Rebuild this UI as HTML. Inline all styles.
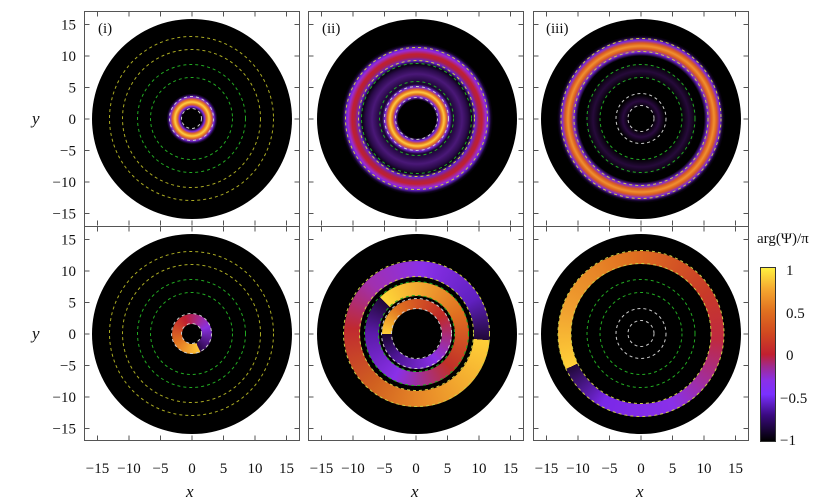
<!DOCTYPE html>
<html><head><meta charset="utf-8"><style>
body{margin:0;background:#fff;width:833px;height:504px;position:relative;overflow:hidden;font-family:"Liberation Serif",serif}
.d{position:absolute;border-radius:50%}
.t{position:absolute;font-size:15px;color:#111;white-space:nowrap}
svg{position:absolute;left:0;top:0}
</style></head><body>

<!-- TOP PANELS -->
<div class="d" style="left:91.5px;top:18.5px;width:200px;height:200px;background:radial-gradient(circle closest-side,#000 0,#000 10px,#7a28e0 12.5px,#e06a20 14.5px,#ffd040 17px,#e06a20 19.5px,#7a28e0 22px,#200840 24px,#000 25.5px,#000 100%)"></div>
<div class="d" style="left:316.5px;top:18.5px;width:200px;height:200px;background:radial-gradient(circle closest-side,#000 0,#000 19px,#7a28e0 22px,#e06a20 24.5px,#ffcc40 27px,#e06a20 29.5px,#7a28e0 32px,#1a0630 35px,#2a0a4a 39px,#4a1878 45px,#2a0a4a 51px,#0a0214 55px,#6a24d0 58.5px,#b02040 62px,#c02030 65px,#9a2ad8 69px,#6a24d0 71px,#100420 74px,#000 76px,#000 100%)"></div>
<div class="d" style="left:541px;top:18.5px;width:200px;height:200px;background:radial-gradient(circle closest-side,#000 0,#000 12px,#2a0a40 18px,#000 24px,#000 40px,#260a3a 48px,#000 56px,#000 63px,#7a28e0 67px,#d85a20 70px,#f09030 73px,#d85a20 76px,#7a28e0 79px,#100420 82px,#000 84px,#000 100%)"></div>

<!-- BOTTOM PANELS -->
<div class="d" style="left:91.5px;top:233.5px;width:200px;height:200px;background:#000"></div>
<div class="d" style="left:171.5px;top:313.5px;width:40px;height:40px;background:conic-gradient(from 155deg,#ffc838,#e07020 25%,#c02030 50%,#8a30e0 75%,#2a0848 100%)"></div>
<div class="d" style="left:181.5px;top:323.5px;width:20px;height:20px;background:#000"></div>

<div class="d" style="left:316.5px;top:233.5px;width:200px;height:200px;background:#000"></div>
<div class="d" style="left:343.5px;top:260.5px;width:146px;height:146px;background:conic-gradient(from 95deg,#ffd038,#e88a28 22%,#d06020 35%,#c02a30 50%,#a030b0 62%,#8a30e8 75%,#6020c0 90%,#200838 100%)"></div>
<div class="d" style="left:359.5px;top:276.5px;width:114px;height:114px;background:#000"></div>
<div class="d" style="left:364.5px;top:281.5px;width:104px;height:104px;background:conic-gradient(from 315deg,#ffd838,#f0a030 15%,#e07020 30%,#c03028 50%,#8a30e8 70%,#5a1aa8 88%,#200838 100%)"></div>
<div class="d" style="left:378.5px;top:295.5px;width:76px;height:76px;background:#000"></div>
<div class="d" style="left:381.5px;top:298.5px;width:70px;height:70px;background:conic-gradient(from 270deg,#ffd038,#e07020 15%,#c02a28 40%,#8a30e8 65%,#4a1490 88%,#1a0630 100%)"></div>
<div class="d" style="left:391.5px;top:308.5px;width:50px;height:50px;background:#000"></div>

<div class="d" style="left:541px;top:233.5px;width:200px;height:200px;background:#000"></div>
<div class="d" style="left:558px;top:250.5px;width:166px;height:166px;background:conic-gradient(from 245deg,#ffd038,#f0a030 12%,#e07020 30%,#c83a28 48%,#c02a40 58%,#8a30e8 75%,#7a28e8 90%,#200838 100%)"></div>
<div class="d" style="left:571px;top:263.5px;width:140px;height:140px;background:#000"></div>

<!-- colorbar -->
<div style="position:absolute;left:761px;top:268px;width:14px;height:173px;background:linear-gradient(to top,#000 0%,#3a0a80 15%,#7a30ff 27%,#8a30e8 35%,#a02a90 43%,#c02030 50%,#d04820 62%,#e07020 75%,#f5a830 88%,#fff040 100%);outline:1px solid #333"></div>

<svg width="833" height="504" viewBox="0 0 833 504">
<g fill="none" stroke-width="1" stroke-dasharray="3 3">
<!-- top panel i -->
<g transform="translate(191.5,118.5)"><circle r="10" stroke="#ccc"/><circle r="22" stroke="#ccc"/><circle r="41" stroke="#2a2"/><circle r="54" stroke="#2a2"/><circle r="69" stroke="#aa2"/><circle r="82" stroke="#aa2"/></g>
<g transform="translate(416.5,118.5)"><circle r="21" stroke="#ccc"/><circle r="32" stroke="#ccc"/><circle r="37" stroke="#2a2"/><circle r="55" stroke="#2a2"/><circle r="58" stroke="#cc4"/><circle r="71" stroke="#cc4"/></g>
<g transform="translate(641,118.5)"><circle r="13" stroke="#ccc"/><circle r="25" stroke="#ccc"/><circle r="41" stroke="#2a2"/><circle r="54" stroke="#2a2"/><circle r="67" stroke="#cc4"/><circle r="80" stroke="#cc4"/></g>
<g transform="translate(191.5,333.5)"><circle r="10" stroke="#ccc"/><circle r="20" stroke="#ccc"/><circle r="41" stroke="#2a2"/><circle r="54" stroke="#2a2"/><circle r="69" stroke="#aa2"/><circle r="82" stroke="#aa2"/></g>
<g transform="translate(416.5,333.5)"><circle r="25" stroke="#ccc"/><circle r="35" stroke="#ccc"/><circle r="38" stroke="#2a2"/><circle r="52" stroke="#2a2"/><circle r="57" stroke="#cc4"/><circle r="73" stroke="#cc4"/></g>
<g transform="translate(641,333.5)"><circle r="13" stroke="#ccc"/><circle r="25" stroke="#ccc"/><circle r="41" stroke="#2a2"/><circle r="54" stroke="#2a2"/><circle r="70" stroke="#cc4"/><circle r="83" stroke="#cc4"/></g>
</g>
<g fill="none" stroke="#555" stroke-width="1">
<rect x="84.5" y="11.5" width="215" height="215"/><rect x="308.5" y="11.5" width="215" height="215"/><rect x="533.5" y="11.5" width="215" height="215"/>
<rect x="84.5" y="226.5" width="215" height="214"/><rect x="308.5" y="226.5" width="215" height="214"/><rect x="533.5" y="226.5" width="215" height="214"/>
<path id="tk" d=""/>
</g>
<g stroke="#555" stroke-width="1" id="ticks"></g>
<g font-family="Liberation Serif,serif" font-size="15" fill="#111">
<text x="98" y="33">(i)</text><text x="322" y="33">(ii)</text><text x="546" y="33">(iii)</text>
<text x="32" y="124" font-style="italic" font-size="17">y</text><text x="32" y="339" font-style="italic" font-size="17">y</text>
<text x="186" y="497" font-style="italic" font-size="17">x</text><text x="411" y="497" font-style="italic" font-size="17">x</text><text x="636" y="497" font-style="italic" font-size="17">x</text>
<text x="757" y="243">arg(Ψ)/π</text>
<text x="786" y="275">1</text><text x="786" y="318">0.5</text><text x="786" y="360">0</text><text x="780" y="403">−0.5</text><text x="780" y="445">−1</text>
</g>
<g id="labels" font-family="Liberation Serif,serif" font-size="15" fill="#111"></g>
</svg>
<script>
var s=6.3,tk=document.getElementById('ticks'),lb=document.getElementById('labels'),h='',l='';
var px=[84.5,308.5,533.5],py=[11.5,226.5];
px.forEach(function(x0){py.forEach(function(y0){var cx=x0+107.5,cy=y0+107.5;
for(var v=-15;v<=15;v+=5){var X=cx+v*s,Y=cy-v*s;
h+='<line x1="'+X+'" y1="'+y0+'" x2="'+X+'" y2="'+(y0+5)+'"/><line x1="'+X+'" y1="'+(y0+214)+'" x2="'+X+'" y2="'+(y0+209)+'"/>';
h+='<line x1="'+x0+'" y1="'+Y+'" x2="'+(x0+5)+'" y2="'+Y+'"/><line x1="'+(x0+215)+'" y1="'+Y+'" x2="'+(x0+210)+'" y2="'+Y+'"/>';}
});
var cx=x0+107.5;for(var v=-15;v<=15;v+=5){var t=v<0?'−'+(-v):''+v;l+='<text x="'+(cx+v*s)+'" y="473" text-anchor="middle">'+t+'</text>';}
});
py.forEach(function(y0){var cy=y0+107.5;for(var v=-15;v<=15;v+=5){var t=v<0?'−'+(-v):''+v;l+='<text x="76" y="'+(cy-v*s+5)+'" text-anchor="end">'+t+'</text>';}});
tk.innerHTML=h;lb.innerHTML=l;
</script>
</body></html>
